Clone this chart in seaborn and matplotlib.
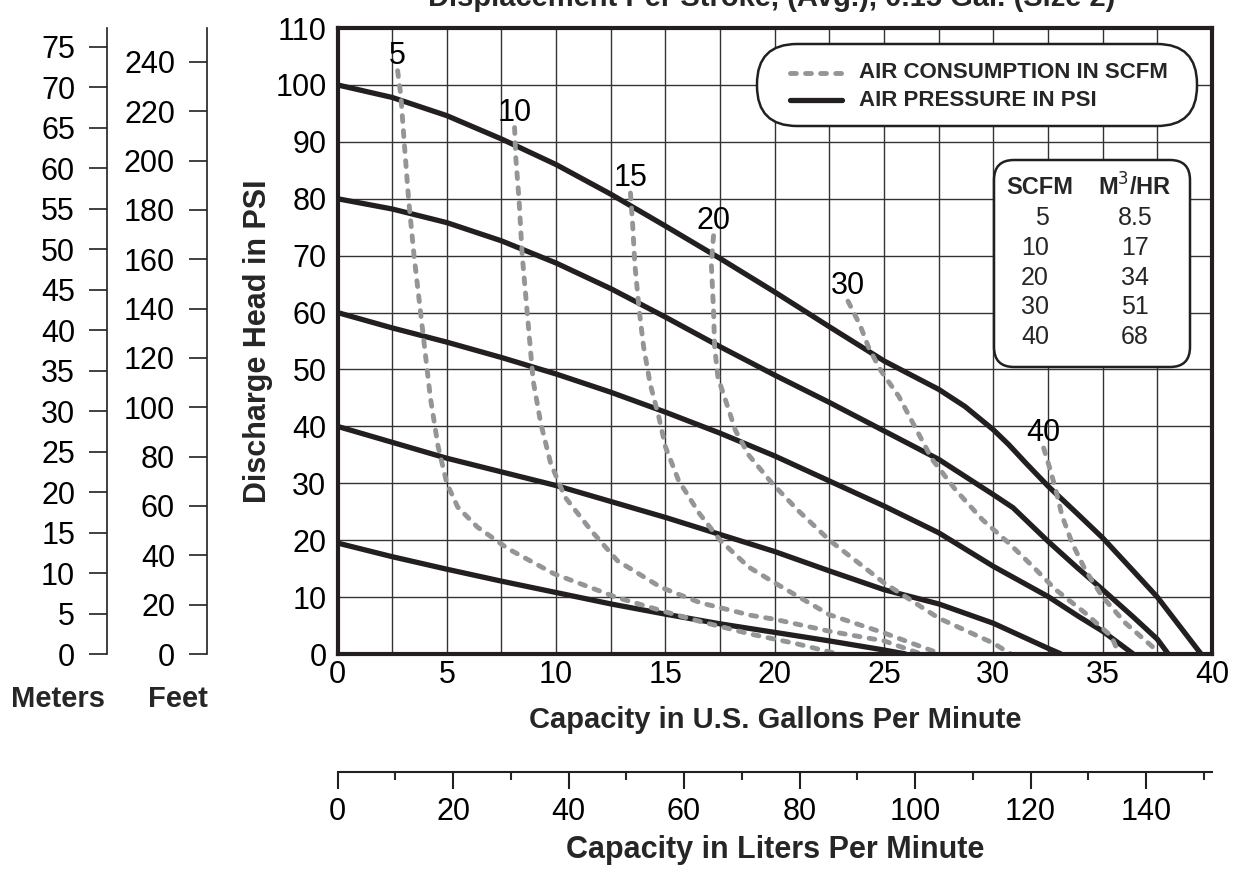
import numpy as np
import pandas as pd
import matplotlib
matplotlib.use("Agg")
import matplotlib.pyplot as plt
import seaborn as sns
from matplotlib.patches import FancyBboxPatch
from matplotlib.lines import Line2D

# ---- data ----
# air pressure curves (solid), capacity in gpm vs discharge head in psi
psi100_gpm = [0, 2.5, 5, 7.5, 10, 12.5, 15, 17.5, 20, 22.5, 25, 27.5, 28.7, 30, 30.7, 31.5, 32.5, 33.8, 35, 36.4, 37.5, 38.6, 39.5]
psi100_head = [100, 97.8, 94.6, 90.5, 86, 80.8, 75.2, 69.5, 63.6, 57.5, 51.5, 46.5, 43.5, 39.4, 36.8, 33.5, 29.5, 24.8, 20.4, 14.6, 10, 4.5, 0]
psi80_gpm = [0, 2.5, 5, 7.5, 10, 12.5, 15, 17.5, 20, 22.5, 25, 27.5, 30, 30.9, 32.5, 33.8, 35, 36.4, 37.5, 38.0]
psi80_head = [80, 78.2, 75.8, 72.6, 68.7, 64.2, 59.2, 54, 49, 44.2, 39.2, 34.2, 28, 25.7, 19.8, 15.3, 11.3, 6.5, 2.6, 0]
psi60_gpm = [0, 2.5, 5, 7.5, 10, 12.5, 15, 17.5, 20, 22.5, 25, 27.5, 30, 32.5, 33.9, 35, 36.4]
psi60_head = [60, 57.3, 54.8, 52.1, 49.2, 46, 42.5, 38.8, 34.8, 30.4, 26, 21.3, 15.4, 10.1, 6.6, 4.0, 0]
psi40_gpm = [0, 2.5, 5, 7.5, 10, 12.5, 15, 17.5, 20, 22.5, 25, 27.5, 30, 32.5, 33.1]
psi40_head = [40, 37.2, 34.4, 32, 29.6, 26.8, 24, 21, 18, 14.6, 11.3, 8.8, 5.4, 1.0, 0]
psi20_gpm = [0, 2.5, 5, 7.5, 10, 12.5, 15, 17.5, 20, 22.5, 25, 26]
psi20_head = [19.5, 17.1, 14.9, 12.8, 10.8, 8.8, 7, 5.3, 3.8, 2.3, 0.7, 0]

# air consumption curves (dashed), scfm
scfm5_gpm = [2.75, 2.9, 3.05, 3.25, 3.5, 3.8, 3.95, 4.25, 4.6, 5.0, 5.5, 6.4, 7.8, 9.9, 12.8, 15.1, 16.6, 18.9, 21, 22.9]
scfm5_head = [102.5, 98, 90, 80, 70, 60, 55, 45, 36.5, 30, 25.8, 22.3, 18.5, 14.1, 9.9, 7.3, 5.7, 3.5, 1.8, 0]
scfm10_gpm = [8.1, 8.15, 8.3, 8.45, 8.7, 8.95, 9.3, 9.75, 10.4, 11.6, 12.8, 14.8, 16.6, 18.9, 20, 22.5, 25, 26.7]
scfm10_head = [92.5, 87.5, 80, 70, 59, 48, 40.5, 33.5, 27.6, 21.7, 16.4, 11.7, 9, 6.8, 6.1, 4.0, 2.3, 0]
scfm15_gpm = [13.4, 13.5, 13.6, 13.8, 14.0, 14.3, 14.7, 15.0, 15.6, 16.55, 17.5, 18.8, 20, 22.5, 25, 27.6]
scfm15_head = [81, 75.5, 68.5, 60.4, 54, 47.5, 41.6, 36.4, 30.5, 24.7, 20, 15.3, 12.5, 6.9, 3.7, 0]
scfm20_gpm = [17.2, 17.1, 17.2, 17.25, 17.4, 17.8, 18.2, 18.8, 19.9, 21.1, 22.5, 25, 27.5, 30, 30.8]
scfm20_head = [73.5, 68.5, 60.4, 54, 48.6, 44, 39.3, 35, 29.9, 25.1, 20, 12.5, 6.3, 1.9, 0]
scfm30_gpm = [23.35, 23.9, 24.3, 24.85, 25.67, 26.4, 27.2, 28.26, 29.5, 30.7, 31.8, 32.85, 34.2, 35.4, 35.75]
scfm30_head = [62, 57.8, 53.8, 49.8, 45.3, 40, 34.2, 28.9, 23.6, 19.5, 15.4, 11.3, 7.2, 3.1, 0]
scfm40_gpm = [32.3, 32.6, 32.85, 33.15, 33.6, 34.2, 34.98, 36.05, 37.27, 37.45]
scfm40_head = [36.2, 32.4, 28.9, 24.2, 19.5, 14.8, 10.1, 5.4, 1.3, 0]

scfm_table = ["5", "10", "20", "30", "40"]
m3hr_table = ["8.5", "17", "34", "51", "68"]

pressure = pd.concat([
    pd.DataFrame({"gpm": psi100_gpm, "psi": psi100_head, "curve": 100}),
    pd.DataFrame({"gpm": psi80_gpm, "psi": psi80_head, "curve": 80}),
    pd.DataFrame({"gpm": psi60_gpm, "psi": psi60_head, "curve": 60}),
    pd.DataFrame({"gpm": psi40_gpm, "psi": psi40_head, "curve": 40}),
    pd.DataFrame({"gpm": psi20_gpm, "psi": psi20_head, "curve": 20}),
])
air = pd.concat([
    pd.DataFrame({"gpm": scfm5_gpm, "psi": scfm5_head, "scfm": 5}),
    pd.DataFrame({"gpm": scfm10_gpm, "psi": scfm10_head, "scfm": 10}),
    pd.DataFrame({"gpm": scfm15_gpm, "psi": scfm15_head, "scfm": 15}),
    pd.DataFrame({"gpm": scfm20_gpm, "psi": scfm20_head, "scfm": 20}),
    pd.DataFrame({"gpm": scfm30_gpm, "psi": scfm30_head, "scfm": 30}),
    pd.DataFrame({"gpm": scfm40_gpm, "psi": scfm40_head, "scfm": 40}),
])

# ---- styling ----
sns.set_style("white")
plt.rcParams['font.family'] = ['Liberation Sans', 'DejaVu Sans']
DARK = "#231f20"
GREY = "#939598"
DASH = (1.2, 1.9)
W, H = 1235, 880

fig = plt.figure(figsize=(12.35, 8.8), dpi=100)

def fx(px):
    return px / W

def fy(py):
    return 1 - py / H

left, right, top, bot = 337.5, 1212, 28, 654
ax = fig.add_axes([fx(left), fy(bot), fx(right - left), (bot - top) / H])

sns.lineplot(data=pressure, x="gpm", y="psi", units="curve", estimator=None, sort=False,
             color=DARK, linewidth=3.8, ax=ax, zorder=3)
for ln in ax.lines:
    ln.set_solid_capstyle("butt")
    ln.set_solid_joinstyle("round")
n0 = len(ax.lines)
sns.lineplot(data=air, x="gpm", y="psi", units="scfm", estimator=None, sort=False,
             color=GREY, linewidth=3.5, ax=ax, zorder=4)
for ln in ax.lines[n0:]:
    ln.set_dashes(DASH)
    ln.set_dash_capstyle("round")

# curve labels
for s in [5, 10, 15, 20, 30, 40]:
    sub = air[air["scfm"] == s]
    ax.text(sub["gpm"].iloc[0], sub["psi"].iloc[0] + 1.2, str(s), ha="center", va="baseline",
            fontsize=22, color="black", zorder=5)

ax.set_xlim(0, 40)
ax.set_ylim(0, 110)
ax.set_xticks(np.arange(0, 41, 5))
ax.set_xticks(np.arange(2.5, 40, 5), minor=True)
ax.set_yticks(np.arange(0, 111, 10))
ax.grid(which="both", color="#333333", linewidth=1.0)
ax.tick_params(which="both", length=0, labelsize=22, colors="black")
ax.tick_params(axis="y", pad=8)
ax.tick_params(axis="x", pad=4)
ax.set_xlabel("")
ax.set_ylabel("")
for sp in ax.spines.values():
    sp.set_visible(True)
    sp.set_linewidth(3.0)
    sp.set_color(DARK)
    sp.set_zorder(6)

# meters / feet scales on the left
PSI_TO_M = 0.70307
PSI_TO_FT = 2.30666
for xpx, conv, step, top_tick, name, name_x in [(107, PSI_TO_M, 5, 75, "Meters", 58),
                                                 (207, PSI_TO_FT, 20, 240, "Feet", 178)]:
    sax = fig.add_axes([fx(xpx), fy(bot), 0.0005, (bot - top) / H])
    sax.set_ylim(0, 110 * conv)
    sax.set_yticks(np.arange(0, top_tick + 1, step))
    sax.set_xticks([])
    for k in ["top", "right", "bottom"]:
        sax.spines[k].set_visible(False)
    sax.spines["left"].set_linewidth(1.2)
    sax.spines["left"].set_color(DARK)
    sax.tick_params(axis="y", left=True, direction="out", length=13, width=1.2, pad=10,
                    labelsize=22, colors=DARK, labelcolor="black")
    sax.patch.set_visible(False)
    fig.text(fx(name_x), fy(699), name, ha="center", va="center", fontsize=21, fontweight="bold")

# liters per minute scale below
lax = fig.add_axes([fx(left), fy(772), fx(right - left), 0.0005])
lax.set_xlim(0, 40 * 3.78541)
lax.set_xticks(np.arange(0, 141, 20))
lax.set_xticks(np.arange(10, 151, 20), minor=True)
lax.set_yticks([])
for k in ["top", "right", "left"]:
    lax.spines[k].set_visible(False)
lax.spines["bottom"].set_linewidth(1.5)
lax.spines["bottom"].set_color(DARK)
lax.tick_params(axis="x", which="major", bottom=True, direction="out", length=12, width=1.5, pad=6,
                labelsize=22, colors=DARK, labelcolor="black")
lax.tick_params(axis="x", which="minor", bottom=True, direction="out", length=5.5, width=1.5)
lax.patch.set_visible(False)

# axis titles
fig.text(fx(258), fy(341), "Discharge Head in PSI", rotation=90, ha="center", va="center",
         fontsize=22, fontweight="bold")
fig.text(fx(775), fy(720), "Capacity in U.S. Gallons Per Minute", ha="center", va="center",
         fontsize=21, fontweight="bold")
fig.text(fx(775), fy(850), "Capacity in Liters Per Minute", ha="center", va="center",
         fontsize=22, fontweight="bold")
fig.text(fx(772), fy(6.5), "Displacement Per Stroke, (Avg.), 0.15 Gal. (Size 2)", ha="center",
         va="baseline", fontsize=21, fontweight="bold")

# legend box (pill shape), drawn in inch coordinates
tr = fig.dpi_scale_trans

def inch(px, py):
    return px / 100, (H - py) / 100

x0, y0 = inch(757, 126)
box = FancyBboxPatch((x0, y0), (1197 - 757) / 100, (126 - 44) / 100,
                     boxstyle="round,pad=0,rounding_size=0.40", transform=tr,
                     facecolor="white", edgecolor=DARK, linewidth=1.8, zorder=10)
fig.patches.append(box)
for py, dashed, label in [(73, True, "AIR CONSUMPTION IN SCFM"), (100, False, "AIR PRESSURE IN PSI")]:
    xa, ya = inch(790, py)
    xb, _ = inch(842, py)
    ln = Line2D([xa, xb], [ya, ya], transform=tr, color=GREY if dashed else DARK,
                linewidth=3.5 if dashed else 3.8, zorder=11)
    if dashed:
        ln.set_dashes(DASH)
        ln.set_dash_capstyle("round")
    else:
        ln.set_solid_capstyle("round")
    fig.lines.append(ln)
    fig.text(fx(859), fy(py), label, ha="left", va="center", fontsize=16,
             fontweight="bold", zorder=11)

# conversion table box
x0, y0 = inch(994, 367)
tbox = FancyBboxPatch((x0, y0), (1190 - 994) / 100, (367 - 160) / 100,
                      boxstyle="round,pad=0,rounding_size=0.2", transform=tr,
                      facecolor="white", edgecolor=DARK, linewidth=1.8, zorder=10)
fig.patches.append(tbox)
fig.text(fx(1040), fy(187), "SCFM", ha="center", va="center", fontsize=17, fontweight="bold", zorder=11)
fig.text(fx(1135), fy(187), "M$^{3}$/HR", ha="center", va="center", fontsize=17, fontweight="bold", zorder=11)
for i, (a, b) in enumerate(zip(scfm_table, m3hr_table)):
    ypx = 218 + i * 29.8
    fig.text(fx(1049), fy(ypx), a, ha="right", va="center", fontsize=18, zorder=11)
    fig.text(fx(1135), fy(ypx), b, ha="center", va="center", fontsize=18, zorder=11)

fig.savefig("out.png", dpi=100)
